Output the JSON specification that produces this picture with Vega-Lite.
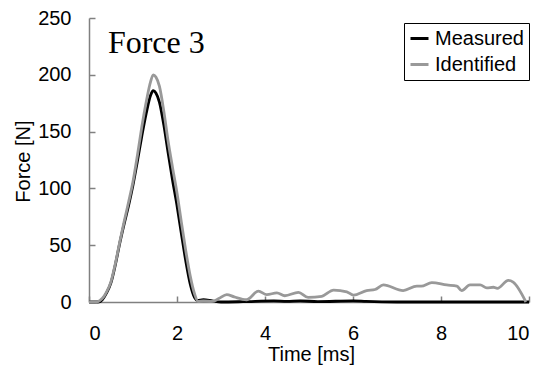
{
  "$schema": "https://vega.github.io/schema/vega-lite/v6.json",
  "autosize": {"type": "none"},
  "padding": {"left": 89, "top": 18, "right": 16, "bottom": 66},
  "width": 440,
  "height": 284,
  "background": "white",
  "config": {
    "view": {"stroke": null},
    "font": "Liberation Sans",
    "axis": {"grid": false, "domainColor": "#808080", "domainWidth": 1.5, "tickColor": "#808080", "tickWidth": 1.5, "labelFont": "Liberation Sans", "labelFontSize": 20, "labelColor": "black", "titleFont": "Liberation Sans", "titleFontSize": 20, "titleFontWeight": "normal", "titleColor": "black"}
  },
  "datasets": {
    "curves": [
      {"t": 0, "v": 0, "series": "Measured"},
      {"t": 0.2, "v": 0, "series": "Measured"},
      {"t": 0.26, "v": 0.5, "series": "Measured"},
      {"t": 0.3, "v": 2, "series": "Measured"},
      {"t": 0.4, "v": 8, "series": "Measured"},
      {"t": 0.5, "v": 17, "series": "Measured"},
      {"t": 0.6, "v": 33, "series": "Measured"},
      {"t": 0.7, "v": 52, "series": "Measured"},
      {"t": 0.8, "v": 69, "series": "Measured"},
      {"t": 0.9, "v": 85, "series": "Measured"},
      {"t": 1.0, "v": 103, "series": "Measured"},
      {"t": 1.1, "v": 124, "series": "Measured"},
      {"t": 1.2, "v": 146, "series": "Measured"},
      {"t": 1.3, "v": 166, "series": "Measured"},
      {"t": 1.4, "v": 182, "series": "Measured"},
      {"t": 1.46, "v": 186, "series": "Measured"},
      {"t": 1.52, "v": 184, "series": "Measured"},
      {"t": 1.6, "v": 176, "series": "Measured"},
      {"t": 1.7, "v": 156, "series": "Measured"},
      {"t": 1.8, "v": 131, "series": "Measured"},
      {"t": 1.9, "v": 107, "series": "Measured"},
      {"t": 2.0, "v": 85, "series": "Measured"},
      {"t": 2.1, "v": 60, "series": "Measured"},
      {"t": 2.2, "v": 36, "series": "Measured"},
      {"t": 2.3, "v": 16, "series": "Measured"},
      {"t": 2.4, "v": 4, "series": "Measured"},
      {"t": 2.46, "v": 1.5, "series": "Measured"},
      {"t": 2.6, "v": 2, "series": "Measured"},
      {"t": 2.8, "v": 1, "series": "Measured"},
      {"t": 3.0, "v": 0, "series": "Measured"},
      {"t": 3.5, "v": 0.3, "series": "Measured"},
      {"t": 4.2, "v": 1, "series": "Measured"},
      {"t": 4.5, "v": 0.5, "series": "Measured"},
      {"t": 4.8, "v": 1, "series": "Measured"},
      {"t": 5.2, "v": 0.3, "series": "Measured"},
      {"t": 6.0, "v": 1, "series": "Measured"},
      {"t": 6.3, "v": 0.5, "series": "Measured"},
      {"t": 7.0, "v": 0, "series": "Measured"},
      {"t": 9.9, "v": 0, "series": "Measured"},
      {"t": 10, "v": 0, "series": "Measured"},
      {"t": 0, "v": 0, "series": "Identified"},
      {"t": 0.1, "v": 0, "series": "Identified"},
      {"t": 0.18, "v": 0, "series": "Identified"},
      {"t": 0.25, "v": 1.5, "series": "Identified"},
      {"t": 0.3, "v": 3, "series": "Identified"},
      {"t": 0.4, "v": 9, "series": "Identified"},
      {"t": 0.5, "v": 18, "series": "Identified"},
      {"t": 0.6, "v": 34, "series": "Identified"},
      {"t": 0.7, "v": 53, "series": "Identified"},
      {"t": 0.8, "v": 71, "series": "Identified"},
      {"t": 0.9, "v": 88, "series": "Identified"},
      {"t": 1.0, "v": 106, "series": "Identified"},
      {"t": 1.1, "v": 129, "series": "Identified"},
      {"t": 1.2, "v": 154, "series": "Identified"},
      {"t": 1.3, "v": 176, "series": "Identified"},
      {"t": 1.4, "v": 194, "series": "Identified"},
      {"t": 1.46, "v": 200, "series": "Identified"},
      {"t": 1.52, "v": 198, "series": "Identified"},
      {"t": 1.6, "v": 190, "series": "Identified"},
      {"t": 1.7, "v": 168, "series": "Identified"},
      {"t": 1.8, "v": 141, "series": "Identified"},
      {"t": 1.9, "v": 118, "series": "Identified"},
      {"t": 2.0, "v": 96, "series": "Identified"},
      {"t": 2.1, "v": 70, "series": "Identified"},
      {"t": 2.2, "v": 45, "series": "Identified"},
      {"t": 2.3, "v": 23, "series": "Identified"},
      {"t": 2.4, "v": 7, "series": "Identified"},
      {"t": 2.48, "v": 0.5, "series": "Identified"},
      {"t": 2.6, "v": 1, "series": "Identified"},
      {"t": 2.8, "v": 0.5, "series": "Identified"},
      {"t": 2.95, "v": 3, "series": "Identified"},
      {"t": 3.13, "v": 6.5, "series": "Identified"},
      {"t": 3.3, "v": 4.5, "series": "Identified"},
      {"t": 3.58, "v": 2, "series": "Identified"},
      {"t": 3.85, "v": 9.5, "series": "Identified"},
      {"t": 4.04, "v": 6.5, "series": "Identified"},
      {"t": 4.27, "v": 8, "series": "Identified"},
      {"t": 4.45, "v": 5.5, "series": "Identified"},
      {"t": 4.76, "v": 8.5, "series": "Identified"},
      {"t": 4.98, "v": 4, "series": "Identified"},
      {"t": 5.29, "v": 5, "series": "Identified"},
      {"t": 5.56, "v": 10.5, "series": "Identified"},
      {"t": 5.86, "v": 9, "series": "Identified"},
      {"t": 6.01, "v": 6, "series": "Identified"},
      {"t": 6.31, "v": 10, "series": "Identified"},
      {"t": 6.5, "v": 11, "series": "Identified"},
      {"t": 6.69, "v": 15, "series": "Identified"},
      {"t": 7.14, "v": 10, "series": "Identified"},
      {"t": 7.45, "v": 14, "series": "Identified"},
      {"t": 7.55, "v": 14, "series": "Identified"},
      {"t": 7.79, "v": 17, "series": "Identified"},
      {"t": 8.13, "v": 15, "series": "Identified"},
      {"t": 8.36, "v": 14, "series": "Identified"},
      {"t": 8.47, "v": 10, "series": "Identified"},
      {"t": 8.66, "v": 15, "series": "Identified"},
      {"t": 8.89, "v": 15, "series": "Identified"},
      {"t": 9.04, "v": 12.5, "series": "Identified"},
      {"t": 9.19, "v": 13, "series": "Identified"},
      {"t": 9.28, "v": 12, "series": "Identified"},
      {"t": 9.53, "v": 19, "series": "Identified"},
      {"t": 9.64, "v": 17.5, "series": "Identified"},
      {"t": 9.93, "v": 0, "series": "Identified"}
    ],
    "label": [{"t": 0.43, "v": 228, "text": "Force 3"}]
  },
  "layer": [
    {
      "data": {"name": "curves"},
      "transform": [{"filter": "datum.series === 'Measured'"}],
      "mark": {"type": "line", "strokeWidth": 2.8, "interpolate": "monotone"},
      "encoding": {
        "x": {"field": "t", "type": "quantitative", "scale": {"domain": [0, 10], "nice": false}, "axis": {"values": [0, 2, 4, 6, 8, 10], "tickSize": -6, "labelPadding": 27, "title": "Time [ms]", "titleX": 222, "titleY": 52, "titleBaseline": "middle"}},
        "y": {"field": "v", "type": "quantitative", "scale": {"domain": [0, 250], "nice": false}, "axis": {"values": [0, 50, 100, 150, 200, 250], "tickSize": -6, "labelPadding": 24, "title": "Force [N]", "titleX": -66, "titleY": 143, "titleBaseline": "middle", "titleAngle": -90}},
        "color": {"field": "series", "type": "nominal", "scale": {"domain": ["Measured", "Identified"], "range": ["#000000", "#999999"]}, "legend": {"title": null, "orient": "none", "legendX": 315, "legendY": 5, "strokeColor": "black", "fillColor": "white", "padding": 5, "symbolType": "stroke", "symbolSize": 324, "symbolStrokeWidth": 3, "labelFontSize": 20, "labelFont": "Liberation Sans", "labelColor": "black", "labelOffset": 5, "rowPadding": 5}}
      }
    },
    {
      "data": {"name": "curves"},
      "transform": [{"filter": "datum.series === 'Identified'"}],
      "mark": {"type": "line", "strokeWidth": 2.8, "interpolate": "monotone"},
      "encoding": {
        "x": {"field": "t", "type": "quantitative"},
        "y": {"field": "v", "type": "quantitative"},
        "color": {"field": "series", "type": "nominal"}
      }
    },
    {
      "data": {"name": "label"},
      "mark": {"type": "text", "align": "left", "baseline": "middle", "font": "Liberation Serif", "fontSize": 32, "color": "black"},
      "encoding": {
        "x": {"field": "t", "type": "quantitative"},
        "y": {"field": "v", "type": "quantitative"},
        "text": {"field": "text"}
      }
    }
  ]
}
